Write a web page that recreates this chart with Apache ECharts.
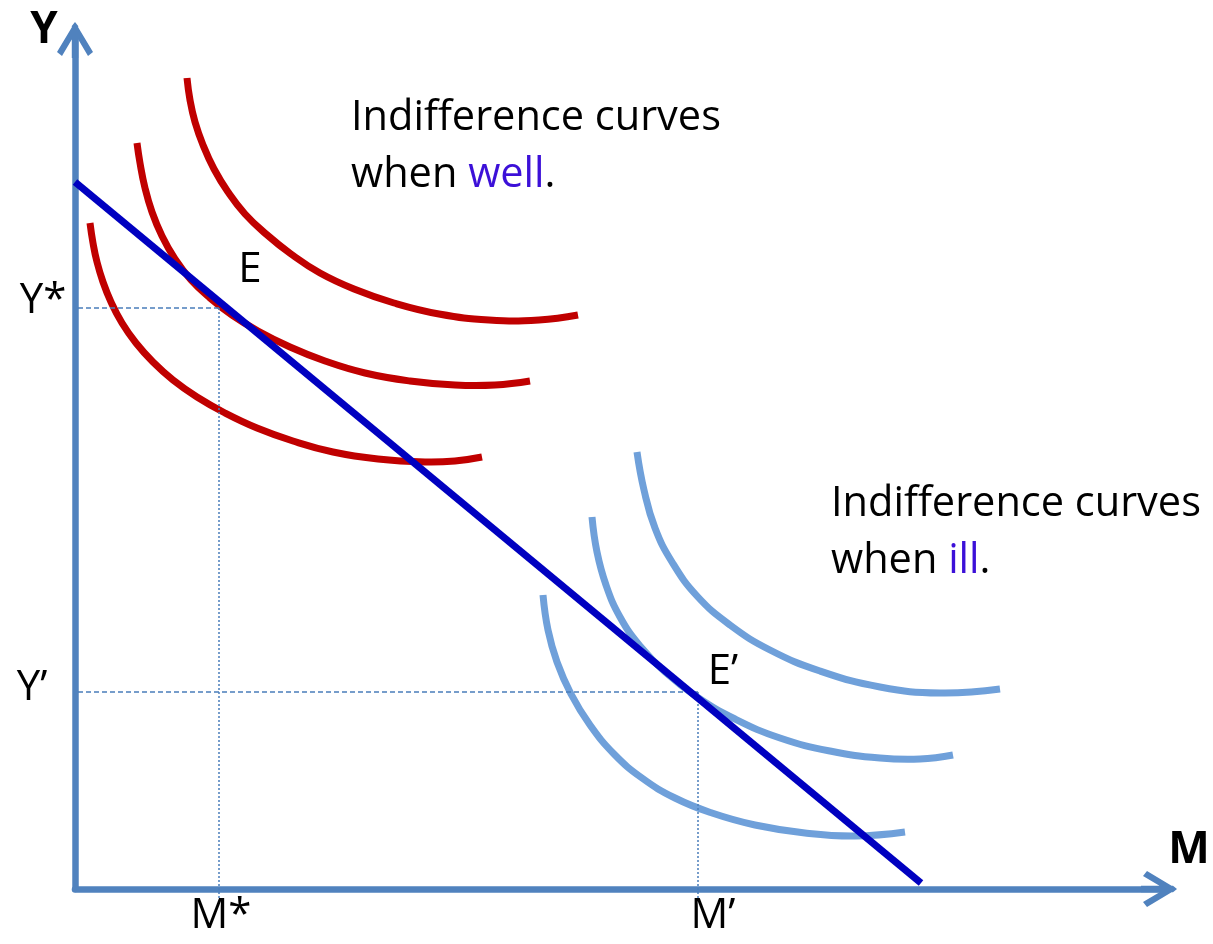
<!DOCTYPE html>
<html lang="en">
<head>
<meta charset="UTF-8">
<title>Indifference curves when well and ill</title>
<script src="https://cdn.jsdelivr.net/npm/echarts@6/dist/echarts.min.js"></script>
<style>
  html, body { margin: 0; padding: 0; background: #fff; }
  #chart { width: 1213px; height: 944px; }
</style>
</head>
<body>
<div id="chart"></div>
<script>
// M on the x axis, Y on the y axis (units are only positions on the diagram)
var budgetLine = [[0, 707], [846, 6]];

// indifference curves when well (red)
var wellHigh = [[112, 811], [115, 789], [120, 767], [128, 744], [139, 720], [153, 697], [170, 675], [191, 655],
    [216, 635], [245, 616], [279, 600], [319, 586], [364, 575], [414, 569], [464, 569], [503, 574]];
var wellMid = [[62, 746], [65, 726], [70, 701], [77, 677], [87, 653], [100, 630], [116, 609], [135, 591],
    [157, 574], [183, 558], [215, 542], [250, 528], [290, 516], [335, 508], [380, 504], [420, 504], [455, 508]];
var wellLow = [[15, 666], [18, 646], [22, 627], [28, 607], [36, 587], [47, 566], [61, 546], [78, 527],
    [98, 509], [122, 492], [150, 476], [182, 461], [218, 448], [258, 437], [303, 430], [350, 427], [380, 428], [407, 432]];

// indifference curves when ill (light blue)
var illHigh = [[562, 437], [569, 399], [580, 361], [597, 327], [622, 293], [655, 264], [695, 239], [745, 218],
    [805, 202], [865, 196], [925, 200]];
var illMid = [[517, 372], [522, 337], [531, 304], [545, 272], [565, 243], [590, 217], [622, 192], [660, 170],
    [705, 151], [755, 138], [805, 131], [845, 130], [878, 134]];
var illLow = [[468, 294], [473, 259], [482, 227], [496, 195], [515, 164], [539, 135], [567, 111], [600, 91],
    [637, 76], [680, 64], [730, 56], [780, 53], [830, 57]];

// equilibrium points E and E'
var mStar = 144, yStar = 581;
var mPrime = 623, yPrime = 197;

var axisColor = '#5082be';
var guideColor = '#4a7ebb';
var arrowPath = 'path://M18,0 L36,30 L31,34 L18,12 L5,34 L0,30 Z M14.8,4 L18,0 L21.2,4 L21.2,36 L14.8,36 Z';
var textFont = '41.5px "Open Sans"';
var labelFont = '42px "Open Sans"';
var boldFont = 'bold 44px "Open Sans"';
var purple = '#3c10d8';

// one smooth stroke through all points of a curve (drawn once, on the first item)
function curve(data, color) {
    return {
        type: 'custom',
        data: data,
        clip: false,
        silent: true,
        renderItem: function (params, api) {
            if (params.dataIndex !== 0) return null;
            var pts = data.map(function (p) { return api.coord(p); });
            return {
                type: 'polyline',
                shape: { points: pts, smooth: 0.45 },
                style: { stroke: color, lineWidth: 7, fill: null }
            };
        }
    };
}

function guide(data, type) {
    return {
        type: 'line',
        data: data,
        symbol: 'none',
        clip: false,
        silent: true,
        lineStyle: { color: guideColor, width: 1.5, type: type }
    };
}

function label(text, x, y, font) {
    return {
        type: 'text',
        x: x,
        y: y,
        silent: true,
        style: {
            text: text,
            font: font || labelFont,
            fill: '#000',
            align: 'center',
            verticalAlign: 'middle',
            textAlign: 'center',
            textVerticalAlign: 'middle'
        }
    };
}

function note(text, x, y) {
    return {
        type: 'text',
        x: x,
        y: y,
        silent: true,
        style: {
            text: text,
            font: textFont,
            fill: '#000',
            verticalAlign: 'middle',
            textVerticalAlign: 'middle',
            rich: { c: { fill: purple, font: textFont } }
        }
    };
}

var chart = echarts.init(document.getElementById('chart'));

var option = {
    animation: false,
    backgroundColor: '#fff',
    grid: { left: 75, right: 54, top: 40, bottom: 55 },
    xAxis: {
        type: 'value',
        min: 0,
        max: 1084,
        splitLine: { show: false },
        axisTick: { show: false },
        axisLabel: { show: false },
        axisLine: {
            show: true,
            onZero: false,
            symbol: ['none', arrowPath],
            symbolSize: [36, 36],
            lineStyle: { color: axisColor, width: 6.5 }
        }
    },
    yAxis: {
        type: 'value',
        min: 0,
        max: 849,
        splitLine: { show: false },
        axisTick: { show: false },
        axisLabel: { show: false },
        axisLine: {
            show: true,
            onZero: false,
            symbol: ['none', arrowPath],
            symbolSize: [36, 36],
            lineStyle: { color: axisColor, width: 6.5 }
        }
    },
    series: [
        guide([[3, yStar], [mStar, yStar]], [5, 3]),
        guide([[mStar, yStar], [mStar, -10]], [2, 2]),
        guide([[3, yPrime], [mPrime, yPrime]], [5, 3]),
        guide([[mPrime, yPrime], [mPrime, -10]], [2, 2]),
        {
            type: 'line',
            data: budgetLine,
            symbol: 'none',
            clip: false,
            silent: true,
            lineStyle: { color: '#0000c0', width: 7 }
        },
        curve(wellHigh, '#c00000'),
        curve(wellMid, '#c00000'),
        curve(wellLow, '#c00000'),
        curve(illHigh, '#6fa0da'),
        curve(illMid, '#6fa0da'),
        curve(illLow, '#6fa0da')
    ],
    graphic: {
        elements: [
            label('Y', 44, 30, boldFont),
            label('M', 1189, 850, boldFont),
            label('Y*', 43, 301),
            label('Y\u2019', 32, 688),
            label('M*', 221, 916),
            label('M\u2019', 713, 916),
            label('E', 250, 270),
            label('E\u2019', 723, 672),
            note('Indifference curves', 351, 118),
            note('when {c|well}.', 351, 175),
            note('Indifference curves', 831, 504),
            note('when {c|ill}.', 831, 561)
        ]
    }
};

chart.setOption(option);
</script>
</body>
</html>
